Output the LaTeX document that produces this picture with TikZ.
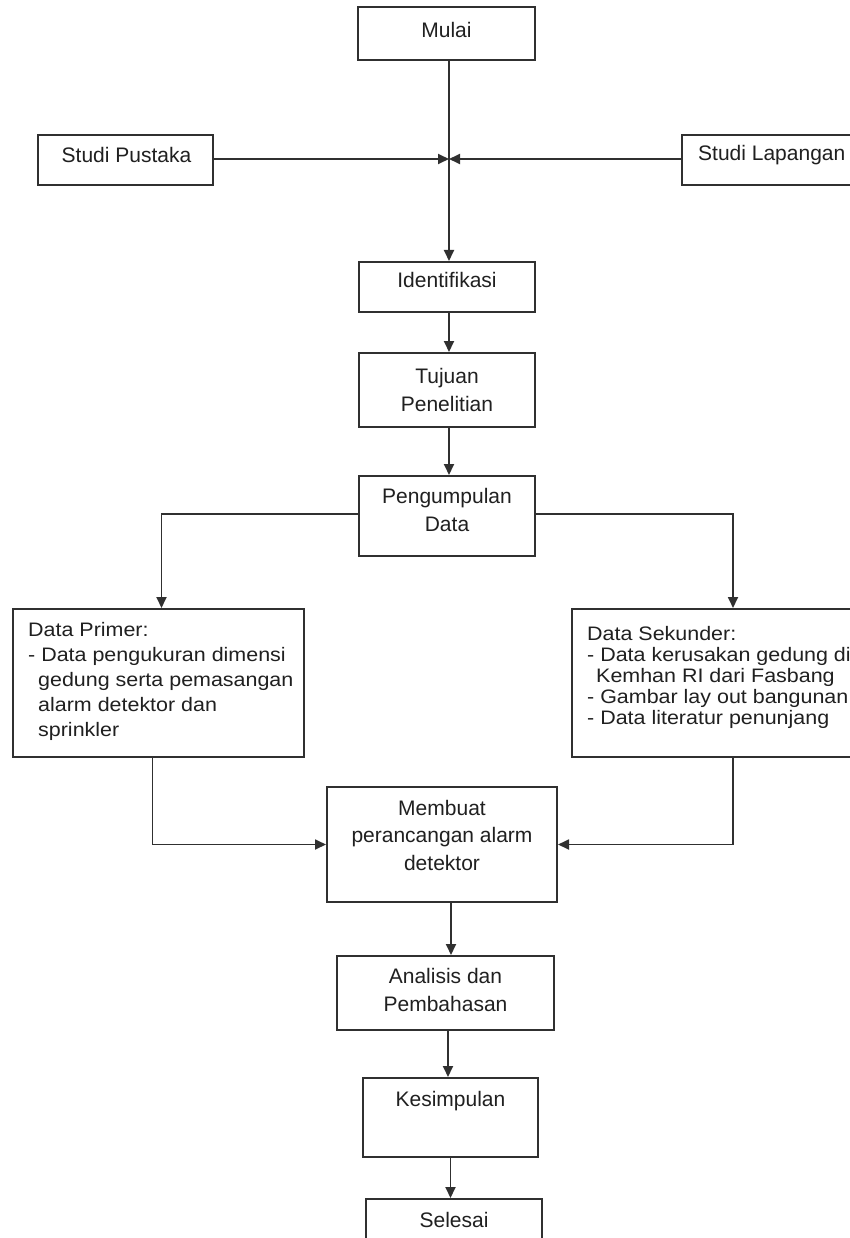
\documentclass[tikz,border=0pt]{standalone}
\usepackage{fontspec}
\setmainfont{Liberation Sans}
\newfontfamily\datafont[FakeStretch=1.1]{Liberation Sans}
\usetikzlibrary{arrows.meta}
\definecolor{ln}{HTML}{303030}
\definecolor{tx}{HTML}{202020}
\begin{document}
\begin{tikzpicture}[x=1pt,y=-1pt,
  box/.style={draw=ln, line width=2pt, inner sep=0pt, fill=none},
  txt/.style={text=tx, font=\fontsize{21}{27.5}\selectfont, align=center, inner sep=0pt},
  dtxt/.style={text=tx, align=left, inner sep=0pt, anchor=north west},
  conn/.style={draw=ln, line width=1.8pt},
  arr/.style={conn, -{Triangle[length=11pt,width=10pt]}},
]
\useasboundingbox[fill=white] (0,0) rectangle (850,1238);

% boxes
\node[box, minimum width=177pt, minimum height=53pt] (mulai) at (446.5,33.5) {};
\node[box, minimum width=175pt, minimum height=50pt] (pustaka) at (125.5,160) {};
\node[box, minimum width=184pt, minimum height=50pt] (lapangan) at (774,160) {};
\node[box, minimum width=176pt, minimum height=50pt] (ident) at (447,287) {};
\node[box, minimum width=176pt, minimum height=74pt] (tujuan) at (447,390) {};
\node[box, minimum width=176pt, minimum height=80pt] (kumpul) at (447,516) {};
\node[box, minimum width=291pt, minimum height=148pt] (primer) at (158.5,683) {};
\node[box, minimum width=322pt, minimum height=148pt] (sekunder) at (733,683) {};
\node[box, minimum width=230pt, minimum height=115pt] (membuat) at (442,844.5) {};
\node[box, minimum width=217pt, minimum height=74pt] (analisis) at (445.5,993) {};
\node[box, minimum width=175pt, minimum height=79pt] (kesim) at (450.5,1117.5) {};
\node[box, minimum width=176pt, minimum height=61pt] (selesai) at (454,1229.5) {};

% texts
\node[txt] (mulaiT) at (446.5,30) {Mulai};
\node[txt] (pustakaT) at (126.5,155) {Studi Pustaka};
\node[txt, anchor=west] (lapanganT) at (698,155) {Studi Lapangan};
\node[txt] (identT) at (447,280) {Identifikasi};
\node[txt] (tujuanT) at (447,390) {Tujuan\\Penelitian};
\node[txt] (kumpulT) at (447,510) {Pengumpulan\\Data};
\node[dtxt, font=\datafont\fontsize{19.5}{25}\selectfont] (primerT) at (28,622)
  {Data Primer:\\- Data pengukuran dimensi\\\hspace*{10pt}gedung serta pemasangan\\\hspace*{10pt}alarm detektor dan\\\hspace*{10pt}sprinkler};
\node[dtxt, font=\datafont\fontsize{19.5}{21}\selectfont] (sekunderT) at (587,626)
  {Data Sekunder:\\- Data kerusakan gedung di\\\hspace*{9pt}Kemhan RI dari Fasbang\\- Gambar lay out bangunan\\- Data literatur penunjang};
\node[txt] (membuatT) at (442,835) {Membuat\\perancangan alarm\\detektor};
\node[txt] (analisisT) at (445.5,990) {Analisis dan\\Pembahasan};
\node[txt] (kesimT) at (450.5,1101) {Kesimpulan};
\node[txt] (selesaiT) at (454,1220) {Selesai};

% connectors
\coordinate (j) at (449,159);
\draw[arr] (mulai.south -| j) -- (ident.north -| j);
\draw[arr] (pustaka.east |- j) -- (j);
\draw[arr] (lapangan.west |- j) -- (j);
\draw[arr] (ident.south -| j) -- (tujuan.north -| j);
\draw[arr] (tujuan.south -| j) -- (kumpul.north -| j);
\coordinate (kl) at (359,514);
\coordinate (kr) at (535,514);
\draw[arr] (kl) -| ([xshift=3pt]primer.north);
\draw[arr] (kr) -| (sekunder.north);
\draw[arr] ([xshift=-6pt]primer.south) |- (membuat.west);
\draw[arr] (sekunder.south) |- (membuat.east);
\draw[arr] ([xshift=9pt]membuat.south) -- ([xshift=9pt]membuat.south |- analisis.north);
\draw[arr] ([xshift=2.5pt]analisis.south) -- ([xshift=2.5pt]analisis.south |- kesim.north);
\draw[arr] (kesim.south) -- (kesim.south |- selesai.north);
\end{tikzpicture}
\end{document}
